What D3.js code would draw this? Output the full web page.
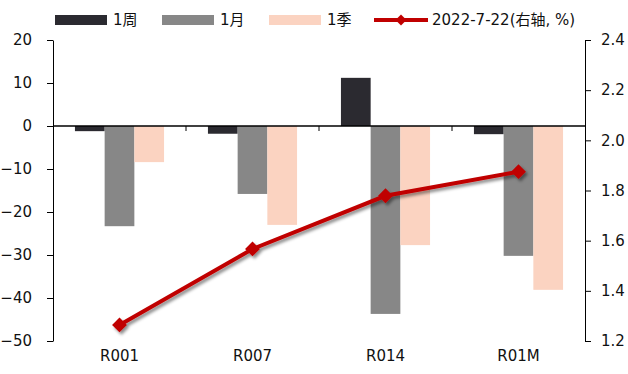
<!DOCTYPE html>
<html>
<head>
<meta charset="utf-8">
<script src="https://cdn.jsdelivr.net/npm/d3@7/dist/d3.min.js"></script>
<style>
  html, body { margin: 0; padding: 0; background: #fff; }
  svg { display: block; }
  text { font-family: "DejaVu Sans", "Noto Sans CJK SC", sans-serif; fill: #111; }
</style>
</head>
<body>
<svg id="chart" width="628" height="374"></svg>
<script>
// Repo tenors
const categories = ["R001", "R007", "R014", "R01M"];
// Change over periods (bp), left axis
const weekChange = [-1.2, -1.8, 11.2, -1.9];
const monthChange = [-23.3, -15.8, -43.7, -30.2];
const quarterChange = [-8.4, -23.0, -27.7, -38.1];
// Rate level on 2022-7-22 (%), right axis
const rateLevel = [1.264, 1.567, 1.779, 1.875];
// Axis ticks
const leftTicks = [20, 10, 0, -10, -20, -30, -40, -50];
const rightTicks = [2.4, 2.2, 2.0, 1.8, 1.6, 1.4, 1.2];

const seriesNames = ["1周", "1月", "1季"];
const seriesColors = ["#2b2a30", "#878787", "#fbd3c1"];
const lineName = "2022-7-22(右轴, %)";
const lineColor = "#c00000";

const svg = d3.select("#chart");
const margin = { left: 53, right: 43, top: 40, bottom: 33 };
const W = 628, H = 374;
const x0 = margin.left, x1 = W - margin.right;
const yTop = margin.top, yBot = H - margin.bottom;

const defs = svg.append("defs");
const f = defs.append("filter").attr("id", "shadow")
  .attr("x", "-20%").attr("y", "-20%").attr("width", "140%").attr("height", "140%");
f.append("feDropShadow").attr("dx", 2).attr("dy", 2.5).attr("stdDeviation", 1.6)
  .attr("flood-color", "#000").attr("flood-opacity", 0.45);

const x = d3.scaleBand().domain(categories).range([x0, x1])
  .paddingInner(0.33).paddingOuter(0.165);
const xs = d3.scaleBand().domain(seriesNames).range([0, x.bandwidth()]);
const yL = d3.scaleLinear().domain([-50, 20]).range([yBot, yTop]);
const yR = d3.scaleLinear().domain([1.2, 2.4]).range([yBot, yTop]);

const values = [weekChange, monthChange, quarterChange];

// Bars
const groups = svg.append("g").selectAll("g").data(categories).join("g")
  .attr("transform", d => `translate(${x(d)},0)`);
groups.selectAll("rect")
  .data((c, i) => seriesNames.map((s, k) => ({ s, v: values[k][i] })))
  .join("rect")
  .attr("x", d => xs(d.s))
  .attr("width", xs.bandwidth())
  .attr("y", d => yL(Math.max(0, d.v)))
  .attr("height", d => Math.abs(yL(d.v) - yL(0)))
  .attr("fill", (d, k) => seriesColors[k]);

// Zero baseline with category separators
svg.append("line").attr("x1", x0).attr("x2", x1)
  .attr("y1", yL(0)).attr("y2", yL(0)).attr("stroke", "#000").attr("stroke-width", 1.3);
svg.append("g").selectAll("line").data(categories.slice(1)).join("line")
  .attr("x1", d => x(d) - x.step() * x.paddingInner() / 2)
  .attr("x2", d => x(d) - x.step() * x.paddingInner() / 2)
  .attr("y1", yL(0)).attr("y2", yL(0) + 5)
  .attr("stroke", "#000").attr("stroke-width", 1);

// Category labels
svg.append("g").selectAll("text").data(categories).join("text")
  .attr("x", d => x(d) + x.bandwidth() / 2)
  .attr("y", yBot + 20)
  .attr("text-anchor", "middle")
  .attr("font-size", 15)
  .text(d => d);

// Left axis
const axL = svg.append("g").attr("transform", `translate(${x0},0)`)
  .call(d3.axisLeft(yL).tickValues(leftTicks).tickSize(6).tickPadding(15).tickSizeOuter(0).tickFormat(d3.format("d")));
axL.select(".domain").attr("stroke", "#000");
axL.selectAll(".tick line").attr("stroke", "#000");
axL.selectAll("text").attr("font-size", 15).attr("font-family", "DejaVu Sans").attr("fill", "#111");

// Right axis
const axR = svg.append("g").attr("transform", `translate(${x1},0)`)
  .call(d3.axisRight(yR).tickValues(rightTicks).tickSize(6).tickPadding(10).tickSizeOuter(0).tickFormat(d3.format(".1f")));
axR.select(".domain").attr("stroke", "#000");
axR.selectAll(".tick line").attr("stroke", "#000");
axR.selectAll("text").attr("font-size", 15).attr("font-family", "DejaVu Sans").attr("fill", "#111");

// Rate line with diamond markers
const pts = categories.map((c, i) => [x(c) + x.bandwidth() / 2, yR(rateLevel[i])]);
const lineG = svg.append("g").attr("filter", "url(#shadow)");
lineG.append("path").attr("d", d3.line()(pts))
  .attr("fill", "none").attr("stroke", lineColor).attr("stroke-width", 4);
lineG.selectAll("path.m").data(pts).join("path").attr("class", "m")
  .attr("d", d3.symbol(d3.symbolSquare, 110)())
  .attr("transform", d => `translate(${d[0]},${d[1]}) rotate(45)`)
  .attr("fill", lineColor);

// Legend
const leg = svg.append("g");
const legX = [55, 162, 269];
seriesNames.forEach((s, k) => {
  leg.append("rect").attr("x", legX[k]).attr("y", 15).attr("width", 52).attr("height", 10)
    .attr("fill", seriesColors[k]);
  leg.append("text").attr("x", legX[k] + 58).attr("y", 25).attr("font-size", 15).text(s);
});
leg.append("line").attr("x1", 374).attr("x2", 428).attr("y1", 20).attr("y2", 20)
  .attr("stroke", lineColor).attr("stroke-width", 4);
leg.append("path").attr("d", d3.symbol(d3.symbolSquare, 60)())
  .attr("transform", "translate(401,20) rotate(45)").attr("fill", lineColor);
leg.append("text").attr("x", 432).attr("y", 25).attr("font-size", 15).text(lineName);
</script>
</body>
</html>
